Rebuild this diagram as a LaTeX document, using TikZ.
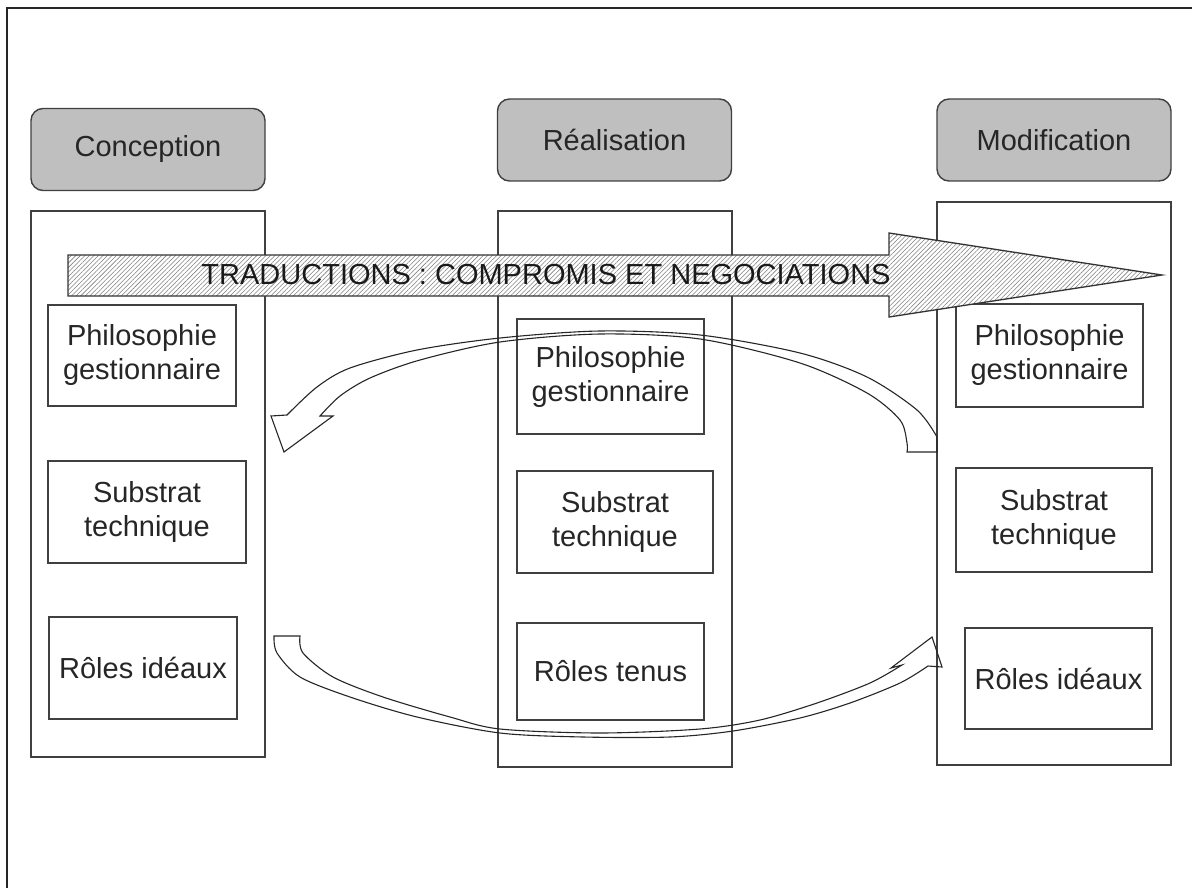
\documentclass[tikz,border=0pt]{standalone}
\usepackage{fontspec}
\setmainfont{Liberation Sans}
\usetikzlibrary{patterns.meta}
\tikzset{
  x=1pt, y=-1pt,
  frameline/.style={line width=1.6pt, black!85},
  colbox/.style={draw=black!75, line width=1.5pt, inner sep=0pt},
  inbox/.style={draw=black!75, line width=1.4pt, inner sep=0pt, align=center,
    font=\fontsize{29}{34}\selectfont, text=black!85},
  hdr/.style={draw=black!75, fill=black!25, line width=1.4pt, rounded corners=12pt,
    inner sep=0pt, font=\fontsize{29}{34}\selectfont, text=black!85,
    minimum width=234pt, minimum height=82pt},
  curv/.style={draw=black!85, line width=1.1pt, line join=miter},
  bigarrow/.style={draw=black!80, line width=1.3pt,
    pattern={Lines[angle=45, distance=3.2pt, line width=0.55pt]}, pattern color=black!50},
}
\begin{document}
\begin{tikzpicture}
\useasboundingbox (0,0) rectangle (1192,888);
% outer frame (only left and top edges visible)
\draw[frameline] (7,888) -- (7,8) -- (1192,8);

% columns
\node[colbox, minimum width=234pt, minimum height=546pt] (colL) at (148,484) {};
\node[colbox, minimum width=234pt, minimum height=556pt] (colM) at (615,489) {};
\node[colbox, minimum width=234pt, minimum height=563pt] (colR) at (1054,483.5) {};

% headers
\node[hdr] (hL) at (148,149.5) {Conception};
\node[hdr] (hM) at (614.5,140) {Réalisation};
\node[hdr] (hR) at (1054,140) {Modification};

% inner boxes
\node[inbox, minimum width=188pt, minimum height=101pt] (L1) at (142,355.5) {Philosophie\\gestionnaire};
\node[inbox, minimum width=198pt, minimum height=102pt] (L2) at (147,512) {Substrat\\technique};
\node[inbox, minimum width=188pt, minimum height=102pt] (L3) at (143,668) {Rôles idéaux};
\node[inbox, minimum width=187pt, minimum height=115pt] (M1) at (610.5,376.5) {Philosophie\\gestionnaire};
\node[inbox, minimum width=196pt, minimum height=102pt] (M2) at (615,522) {Substrat\\technique};
\node[inbox, minimum width=187pt, minimum height=97pt] (M3) at (610.5,671.5) {Rôles tenus};
\node[inbox, minimum width=187pt, minimum height=103pt] (R1) at (1049.5,355.5) {Philosophie\\gestionnaire};
\node[inbox, minimum width=196pt, minimum height=104pt] (R2) at (1054,520) {Substrat\\technique};
\node[inbox, minimum width=187pt, minimum height=101pt] (R3) at (1058.5,678.5) {Rôles idéaux};

% upper curved arrow (towards the left)
\draw[curv] (937,452) -- (907,452)
  -- plot[smooth] coordinates {(907,452) (907,443) (900,420) (867,393) (800,363) (700,339) (600,334) (500,342) (420,360) (370,378) (340,396) (320,416)}
  -- (333,416) -- (284,452) -- (271,416)
  -- plot[smooth] coordinates {(287,415) (317,387) (350,368) (417,350) (500,338) (600,331) (700,335) (800,353) (867,377) (917,410) (937,437)}
  -- cycle;

% lower curved arrow (towards the right)
\draw[curv] (274,636) -- (300,636)
  -- plot[smooth] coordinates {(300,636) (303,653) (333,677) (383,697) (450,717) (500,729) (600,733) (700,729) (760,720) (817,703) (870,683) (902,665)}
  -- (891,668) -- (932,637) -- (942,667)
  -- plot[smooth] coordinates {(928,666) (900,683) (850,703) (800,718) (733,731) (670,737) (583,737) (500,733) (417,717) (350,697) (300,677) (277,653) (274,636)}
  -- cycle;

% big hatched arrow
\fill[white] (68,255) -- (889,255) -- (889,233) -- (1162,275) -- (889,317) -- (889,296) -- (68,296) -- cycle;
\draw[bigarrow] (68,255) -- (889,255) -- (889,233) -- (1162,275) -- (889,317) -- (889,296) -- (68,296) -- cycle;
\node[font=\fontsize{29}{34}\selectfont, text=black!90, inner sep=0pt] (trad) at (546,275) {TRADUCTIONS : COMPROMIS ET NEGOCIATIONS};
\end{tikzpicture}
\end{document}
